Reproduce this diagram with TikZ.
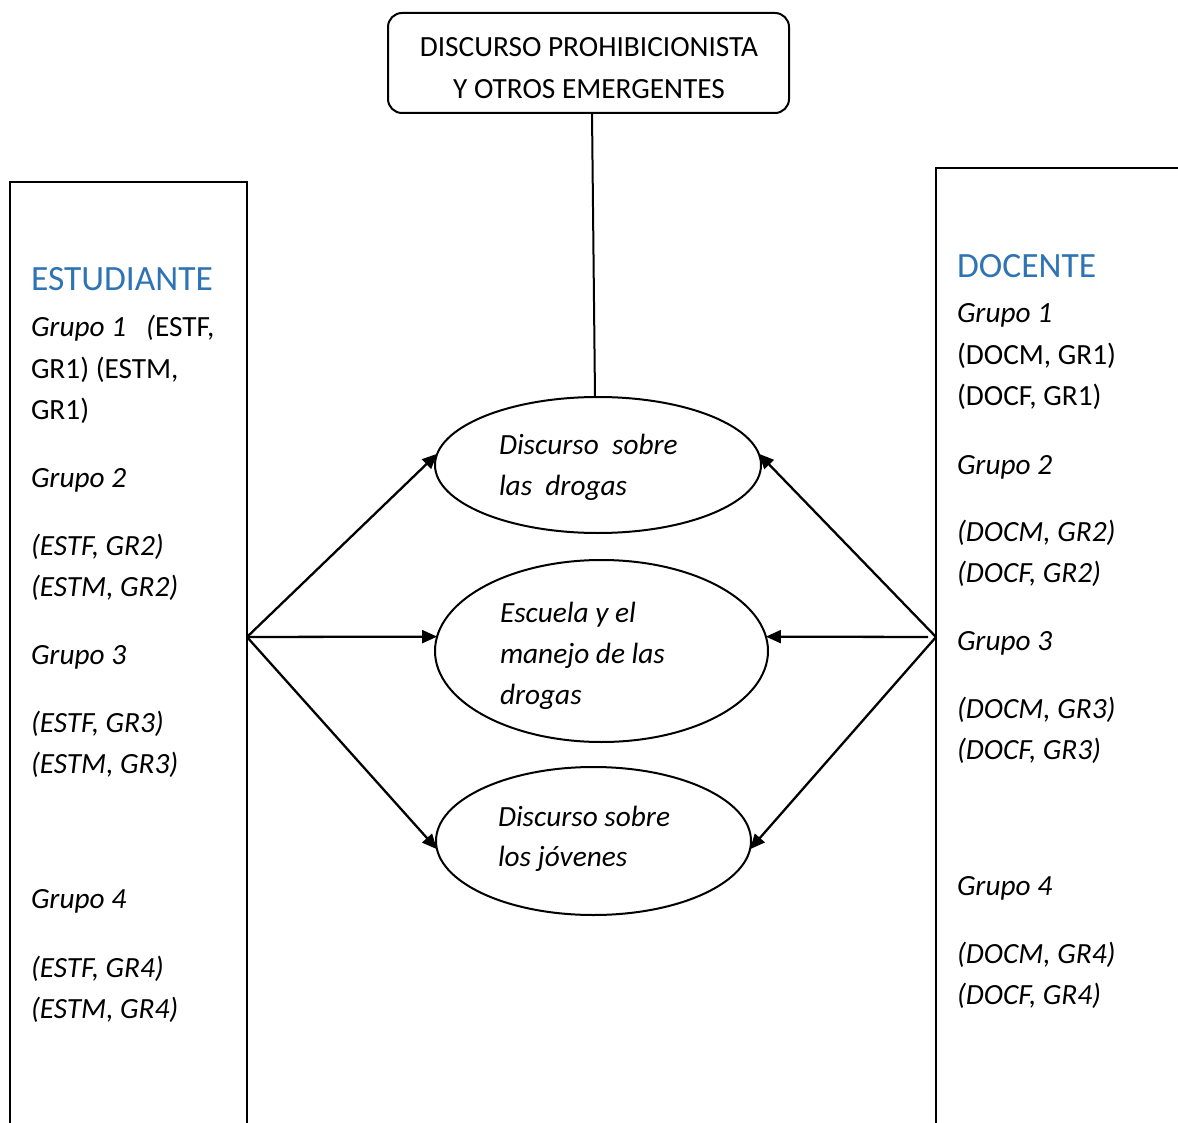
\documentclass[tikz,border=0pt]{standalone}
\usepackage{fontspec}
\setmainfont{Carlito}
\usetikzlibrary{shapes.geometric,arrows.meta}
\definecolor{titleblue}{RGB}{46,116,181}
\begin{document}
\begin{tikzpicture}[x=1pt,y=-1pt,
  every node/.style={inner sep=0pt, outer sep=0pt},
  txt/.style={anchor=base west, font=\fontsize{29.3}{41}\selectfont},
  itxt/.style={txt, font=\fontsize{29.3}{41}\selectfont\itshape},
  ctxt/.style={txt, anchor=base},
  ttl/.style={anchor=base west, text=titleblue, font=\fontsize{35.5}{42}\selectfont},
  oval/.style={draw, ellipse, line width=2pt},
  frame/.style={draw, rectangle, line width=2pt},
  link/.style={line width=2.3pt, -{Triangle[length=15pt,width=13pt]}}
]
\useasboundingbox (0,0) rectangle (1178,1123);

% top box
\node[frame, rounded corners=14pt, minimum width=401pt, minimum height=100pt] (top) at (588.5,63) {};
\node[ctxt] (t1) at (589,57) {DISCURSO PROHIBICIONISTA};
\node[ctxt] (t2) at (589,99) {Y OTROS EMERGENTES};

% side boxes
\node[frame, anchor=north west, minimum width=237pt, minimum height=1000pt] (est) at (10,182) {};
\node[frame, anchor=north west, minimum width=300pt, minimum height=1000pt] (doc) at (936,168) {};

% ellipses
\node[oval, minimum width=326pt, minimum height=136pt] (e1) at (598,465) {};
\node[oval, minimum width=333pt, minimum height=182pt] (e2) at (601.5,651) {};
\node[oval, minimum width=315pt, minimum height=148pt] (e3) at (593.5,841) {};

\node[itxt] (e1a) at (499,454) {Discurso\ \ sobre};
\node[itxt] (e1b) at (499,495) {las\ \ drogas};
\node[itxt] (e2a) at (500,622) {Escuela y el};
\node[itxt] (e2b) at (500,663) {manejo de las};
\node[itxt] (e2c) at (500,704) {drogas};
\node[itxt] (e3a) at (498,826) {Discurso sobre};
\node[itxt] (e3b) at (498,866) {los jóvenes};

% left column
\node[ttl] (lt) at (31,291) {ESTUDIANTE};
\node[txt] (l1a) at (31,337) {\textit{Grupo 1\hspace{20pt}(}ESTF,};
\node[txt] (l1b) at (31,378) {GR1) (ESTM,};
\node[txt] (l1c) at (31,419) {GR1)};
\node[itxt] (l2) at (31,487) {Grupo 2};
\node[itxt] (l2a) at (31,555) {(ESTF, GR2)};
\node[itxt] (l2b) at (31,596) {(ESTM, GR2)};
\node[itxt] (l3) at (31,664) {Grupo 3};
\node[itxt] (l3a) at (31,732) {(ESTF, GR3)};
\node[itxt] (l3b) at (31,773) {(ESTM, GR3)};
\node[itxt] (l4) at (31,908) {Grupo 4};
\node[itxt] (l4a) at (31,977) {(ESTF, GR4)};
\node[itxt] (l4b) at (31,1018) {(ESTM, GR4)};

% right column
\node[ttl] (rt) at (957,278) {DOCENTE};
\node[itxt] (r1) at (957,323) {Grupo 1};
\node[txt] (r1a) at (957,364) {(DOCM, GR1)};
\node[txt] (r1b) at (957,405) {(DOCF, GR1)};
\node[itxt] (r2) at (957,474) {Grupo 2};
\node[itxt] (r2a) at (957,541) {(DOCM, GR2)};
\node[itxt] (r2b) at (957,582) {(DOCF, GR2)};
\node[itxt] (r3) at (957,650) {Grupo 3};
\node[itxt] (r3a) at (957,718) {(DOCM, GR3)};
\node[itxt] (r3b) at (957,759) {(DOCF, GR3)};
\node[itxt] (r4) at (957,895) {Grupo 4};
\node[itxt] (r4a) at (957,963) {(DOCM, GR4)};
\node[itxt] (r4b) at (957,1004) {(DOCF, GR4)};

% connectors
\coordinate (L) at (247,637);
\coordinate (R) at (936,637);
\coordinate (R2) at (928,637);
\draw[line width=2pt] ([xshift=3.5pt]top.south) -- ([xshift=-3pt]e1.north);
\draw[link] (L) -- (e1.176);
\draw[link] (L) -- (e2.175);
\draw[link] (L) -- (e3.183);
\draw[link] (R) -- (e1.4);
\draw[link] (R2) -- (e2.5);
\draw[link] (R) -- (e3.357);
\end{tikzpicture}
\end{document}
